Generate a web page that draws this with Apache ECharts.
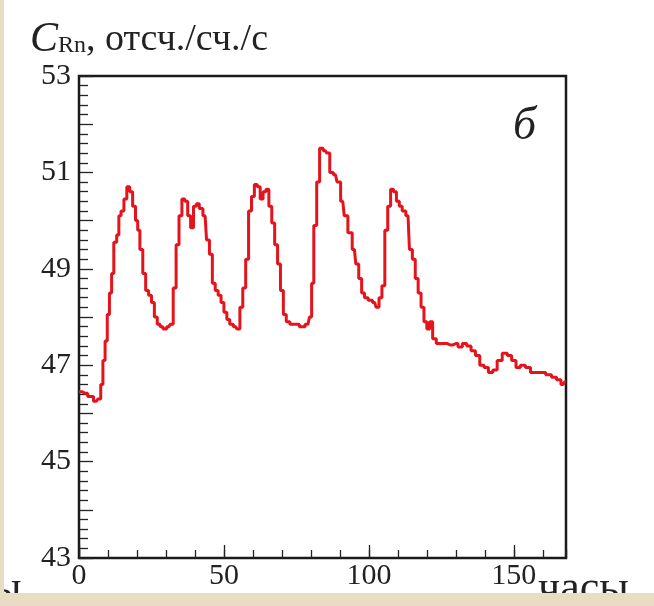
<!DOCTYPE html>
<html>
<head>
<meta charset="utf-8">
<script src="https://cdn.jsdelivr.net/npm/echarts@6/dist/echarts.min.js"></script>
<style>
html,body{margin:0;padding:0;background:#fff;}
#c{width:654px;height:606px;}
</style>
</head>
<body>
<div id="c"></div>
<script>
// hours
const hours = [0,2,4,6,7,8,8.5,9.5,10,11,11.5,12.5,13.5,14,15,16,17,18,19,20,20.5,21.5,22.5,23.5,24.5,25.5,26.5,27.5,28.5,29.5,31,32,
33,34,35,36,37,38,39,40,41,42,43.5,44.5,45.5,46.5,47.5,48.5,49.5,50.5,51.5,52.5,54,55,56,57,58,59,60,61,62,63,64,65,66,67,68,69,70,71,72,73.5,75,77,79,
80,80.5,81.5,82.5,83.5,85,86,87,88.5,89.5,91,92,93.5,95,96,97,98,99,100.5,102,103,104,105,106,107,108,109,110,111,112,113.5,114.5,115.5,116.5,117.5,118.5,119.5,120.5,121.5,122.5,
124,126,128,130,131.5,133,134.5,136,137.5,139,140.5,142,143.5,145,147,148.5,150,151.5,153,155,156.5,158,160,162,164,165.5,167,168];
// count rate C_Rn
const rates = [46.45,46.42,46.35,46.25,46.3,46.6,47.1,47.5,48.05,48.5,48.9,49.55,49.7,50.1,50.2,50.45,50.7,50.6,50.3,50.0,49.8,49.4,48.9,48.55,48.45,48.3,48.0,47.85,47.8,47.75,47.8,47.85,
48.6,49.5,50.1,50.45,50.4,50.1,49.85,50.3,50.35,50.25,50.1,49.6,49.3,48.7,48.55,48.45,48.3,48.1,47.95,47.85,47.8,47.75,48.2,48.6,49.2,50.2,50.5,50.75,50.7,50.45,50.6,50.65,50.3,49.95,49.5,49.1,48.55,48.05,47.9,47.85,47.85,47.8,47.85,
48.0,48.7,49.9,50.8,51.5,51.45,51.4,51.0,50.95,50.8,50.4,50.1,49.75,49.4,49.1,48.8,48.5,48.4,48.35,48.3,48.2,48.4,48.65,49.8,50.3,50.65,50.6,50.4,50.3,50.2,50.1,49.4,49.2,48.8,48.5,48.2,47.9,47.75,47.9,47.55,
47.45,47.45,47.42,47.45,47.38,47.45,47.4,47.3,47.2,47.0,46.95,46.85,46.9,47.1,47.25,47.2,47.1,46.95,47.0,46.95,46.85,46.85,46.85,46.8,46.75,46.7,46.6,46.65];
const xLabels = [0,50,100,150];
const yLabels = [43,45,47,49,51,53];

const serif = '"Liberation Serif","DejaVu Serif",serif';
const chart = echarts.init(document.getElementById('c'), null, {renderer:'canvas'});
const data = hours.map((h,i)=>[h,rates[i]]);
chart.setOption({
  animation:false,
  backgroundColor:'#ffffff',
  grid:{left:79,top:76,right:88,bottom:48,show:true,borderColor:'#1a1a1a',borderWidth:2.5,backgroundColor:'transparent'},
  xAxis:[{
    type:'value',min:0,max:168,interval:10,position:'bottom',
    axisLine:{show:false},
    axisTick:{inside:true,length:8,lineStyle:{color:'#222',width:1.3}},
    axisLabel:{show:false},
    splitLine:{show:false}
  },{
    type:'value',min:0,max:168,interval:50,position:'bottom',
    axisLine:{show:false},
    axisTick:{inside:true,length:13,customValues:xLabels,lineStyle:{color:'#222',width:1.3}},
    axisLabel:{customValues:xLabels,formatter:v=>xLabels.includes(v)?String(v):'',fontFamily:serif,fontSize:30,color:'#222',margin:3},
    splitLine:{show:false}
  }],
  yAxis:[{
    type:'value',min:43,max:53,interval:1,position:'left',
    axisLine:{show:false},
    axisTick:{show:true,inside:true,length:14,lineStyle:{color:'#222',width:1.3}},
    minorTick:{show:true,splitNumber:5,length:9,lineStyle:{color:'#222',width:1.3}},
    axisLabel:{formatter:v=>yLabels.includes(v)?String(v):'',fontFamily:serif,fontSize:30,color:'#222',margin:8},
    splitLine:{show:false}
  }],
  series:[{
    type:'line',xAxisIndex:0,yAxisIndex:0,data:data,step:'middle',showSymbol:false,
    lineStyle:{color:'#e3141c',width:3},
    z:3
  }],
  graphic:[
    {type:'text',left:30,top:19,style:{
      text:'{c|C}{s|Rn}{t|, отсч./сч./с}',
      rich:{
        c:{fontFamily:serif,fontStyle:'italic',fontSize:42,fill:'#222'},
        s:{fontFamily:serif,fontSize:24,fill:'#222',padding:[12,0,0,0]},
        t:{fontFamily:serif,fontSize:38,fill:'#222'}
      }
    }},
    {type:'text',left:513,top:104,style:{text:'б',fontFamily:serif,fontStyle:'italic',fontSize:46,fill:'#222'}},
    {type:'text',left:538,top:567,style:{text:'часы',fontFamily:serif,fontSize:44,fill:'#222'}},
    {type:'text',left:-8,top:567,style:{text:'ы',fontFamily:serif,fontSize:44,fill:'#222'}},
    {type:'rect',shape:{x:0,y:593,width:654,height:13},style:{fill:'#e8dcc3'},z:100},
    {type:'rect',shape:{x:0,y:0,width:4,height:606},style:{fill:'#e8dcc3'},z:100}
  ]
});
</script>
</body>
</html>
